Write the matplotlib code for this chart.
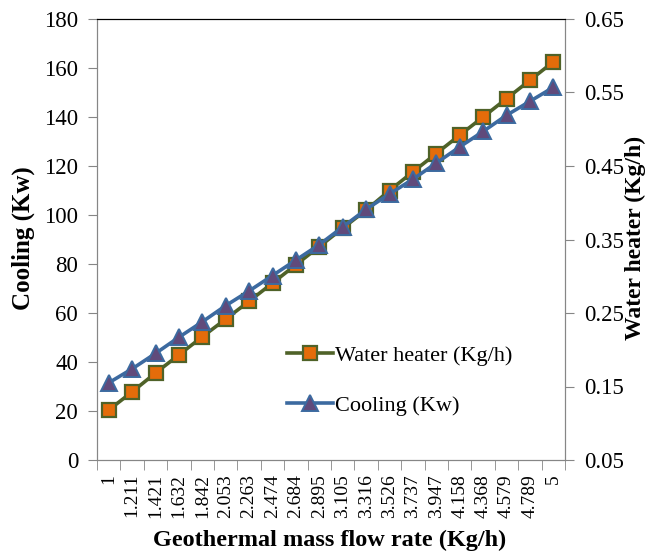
import numpy as np
import matplotlib
matplotlib.use('Agg')
import matplotlib.pyplot as plt

plt.rcParams['font.family'] = ['Liberation Serif', 'DejaVu Serif']

flow_labels = ['1', '1.211', '1.421', '1.632', '1.842', '2.053', '2.263', '2.474', '2.684', '2.895',
               '3.105', '3.316', '3.526', '3.737', '3.947', '4.158', '4.368', '4.579', '4.789', '5']
water_heater = [20.4, 27.8, 35.5, 42.9, 50.3, 57.5, 64.8, 72.2, 79.7, 87.1,
                94.6, 102.0, 110.0, 117.6, 125.1, 132.6, 140.0, 147.5, 155.0, 162.5]
cooling = [0.155, 0.174, 0.195, 0.217, 0.238, 0.260, 0.280, 0.301, 0.322, 0.343,
           0.367, 0.391, 0.412, 0.432, 0.454, 0.476, 0.497, 0.519, 0.538, 0.557]

x = np.arange(len(flow_labels))

fig = plt.figure(figsize=(6.49, 5.54), dpi=100)
ax = fig.add_axes([97 / 649, 94 / 554, 468 / 649, 441 / 554])
ax2 = ax.twinx()

gray = '#868686'
wh_line, = ax.plot(x, water_heater, color='#4F6228', lw=2.6, marker='s', ms=10,
                   mfc='#E46C0A', mec='#4F6228', mew=1.6, label='Water heater (Kg/h)')
co_line, = ax2.plot(x, cooling, color='#3C6AA0', lw=2.6, marker='^', ms=11,
                    mfc='#604A7B', mec='#3C6AA0', mew=1.4, label='Cooling (Kw)')

ax.set_xlim(-0.5, len(x) - 0.5)
ax.set_ylim(0, 180)
ax.set_yticks(np.arange(0, 181, 20))
ax2.set_ylim(0.05, 0.65)
ax2.set_yticks([0.05, 0.15, 0.25, 0.35, 0.45, 0.55, 0.65])
ax2.set_yticklabels(['0.05', '0.15', '0.25', '0.35', '0.45', '0.55', '0.65'])

ax.set_xticks(x)
ax.set_xticklabels(flow_labels, rotation=90, fontsize=14)
ax.set_xticks(np.arange(-0.5, len(x), 1), minor=True)
ax.tick_params(axis='x', which='major', length=0, pad=10)
ax.tick_params(axis='x', which='minor', length=7, color=gray, direction='out')
ax.tick_params(axis='y', length=6.5, color=gray, labelsize=16.5, direction='out', pad=7)
ax2.tick_params(axis='y', length=6.5, color=gray, labelsize=16.5, direction='out', pad=7)

for a in (ax, ax2):
    for s in ('left', 'right', 'bottom'):
        a.spines[s].set_color(gray)
    a.spines['top'].set_color('black')

fig.text(23 / 649, 1 - 238 / 554, 'Cooling (Kw)', rotation=90, ha='center', va='center',
         fontsize=18, fontweight='bold')
fig.text(635 / 649, 1 - 238 / 554, 'Water heater (Kg/h)', rotation=90, ha='center', va='center',
         fontsize=17, fontweight='bold')
fig.text(330 / 649, 1 - 540 / 554, 'Geothermal mass flow rate (Kg/h)', ha='center', va='center',
         fontsize=17.5, fontweight='bold')

ax2.legend(handles=[wh_line, co_line], loc='center left', bbox_to_anchor=(0.405, 0.18),
           frameon=False, fontsize=16, handlelength=2.1, handletextpad=0.1,
           labelspacing=1.35, borderpad=0, borderaxespad=0)

fig.savefig('out.png', dpi=100)
